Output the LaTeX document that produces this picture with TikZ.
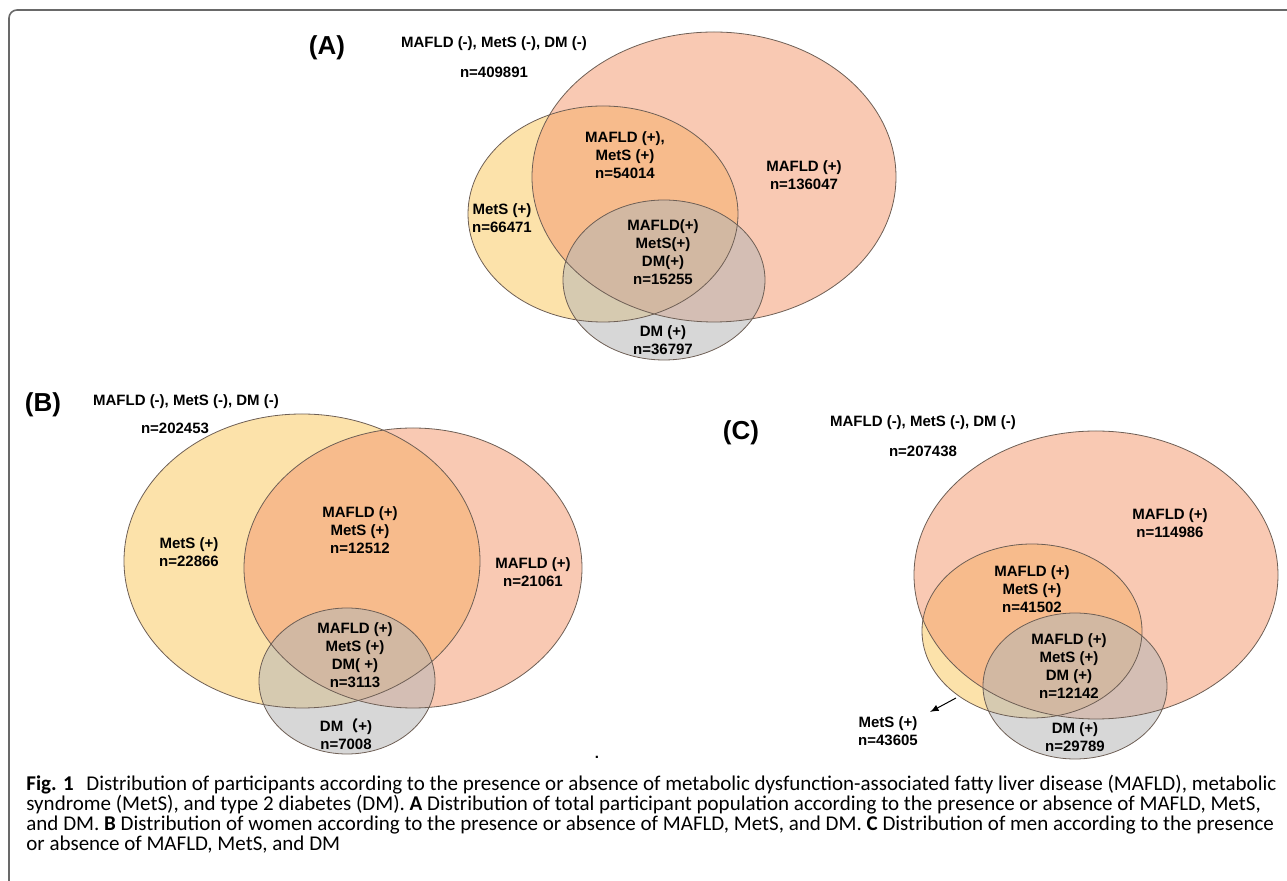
\documentclass[tikz,border=0pt]{standalone}
\usepackage{fontspec}
\setmainfont{Liberation Sans}
\newfontfamily\capfont{Carlito}
\newfontfamily\cjkfont{Noto Sans CJK SC}
\usetikzlibrary{arrows}

\definecolor{mafldfill}{RGB}{244,156,116}
\definecolor{metsfill}{RGB}{250,202,100}
\definecolor{dmfill}{RGB}{182,182,182}
\definecolor{vennline}{RGB}{110,95,85}
\definecolor{framegray}{RGB}{105,105,105}

\begin{document}
\begin{tikzpicture}[x=0.5pt, y=-0.5pt,
  lbl/.style={align=center, inner sep=1pt, font=\bfseries\fontsize{7.5}{9}\selectfont},
  panel/.style={inner sep=0pt, font=\bfseries\fontsize{13}{15}\selectfont},
  mafld/.style={fill=mafldfill, fill opacity=0.55},
  mets/.style={fill=metsfill, fill opacity=0.55},
  dm/.style={fill=dmfill, fill opacity=0.55},
  rim/.style={draw=vennline, line width=0.4pt},
  capline/.style={anchor=base west, inner sep=0pt, font=\capfont\fontsize{10.5}{10}\selectfont}]

\useasboundingbox (0,0) rectangle (1287,881);

% outer frame
\draw[framegray, line width=0.8pt, rounded corners=4pt] (9,881) -- (9,10) -- (1287,10);

% (A) total population
\fill[mets] (603,214) ellipse [x radius=135, y radius=108];
\fill[mafld] (714,177) ellipse [x radius=182, y radius=145];
\fill[dm] (664,280) ellipse [x radius=101, y radius=80];
\draw[rim] (714,177) ellipse [x radius=182, y radius=145];
\draw[rim] (603,214) ellipse [x radius=135, y radius=108];
\draw[rim] (664,280) ellipse [x radius=101, y radius=80];

\path (327,48) node[panel] (tagA) {(A)}
      (494,44) node[lbl] (noneA) {MAFLD (-), MetS (-), DM (-)}
      (494,72) node[lbl] (noneNA) {n=409891};

\path (625,155) node[lbl] (mmA) {MAFLD (+),\\MetS (+)\\n=54014}
      (804,175) node[lbl] (mafldA) {MAFLD (+)\\n=136047}
      (502,218) node[lbl] (metsA) {MetS (+)\\n=66471}
      (663,252) node[lbl] (allA) {MAFLD(+)\\MetS(+)\\DM(+)\\n=15255}
      (663,340) node[lbl] (dmA) {DM (+)\\n=36797};

% (B) women
\fill[mets] (302,561) ellipse [x radius=178, y radius=147];
\fill[mafld] (413,568) ellipse [x radius=169, y radius=140];
\fill[dm] (347,681) ellipse [x radius=88, y radius=73];
\draw[rim] (302,561) ellipse [x radius=178, y radius=147];
\draw[rim] (413,568) ellipse [x radius=169, y radius=140];
\draw[rim] (347,681) ellipse [x radius=88, y radius=73];

\path (43,405) node[panel] (tagB) {(B)}
      (186,402) node[lbl] (noneB) {MAFLD (-), MetS (-), DM (-)}
      (175,428) node[lbl] (noneNB) {n=202453};

\path (189,552) node[lbl] (metsB) {MetS (+)\\n=22866}
      (360,530) node[lbl] (mmB) {MAFLD (+)\\MetS (+)\\n=12512}
      (533,572) node[lbl] (mafldB) {MAFLD (+)\\n=21061}
      (355,655) node[lbl] (allB) {MAFLD (+)\\MetS (+)\\DM( +)\\n=3113}
      (346,734) node[lbl] (dmB) {DM{\cjkfont （}+)\\n=7008}
      (597,757) node[lbl] (dotB) {.};

% (C) men
\fill[mets] (1032,631) ellipse [x radius=110, y radius=87];
\fill[mafld] (1096,575) ellipse [x radius=182, y radius=144];
\fill[dm] (1075,686) ellipse [x radius=92, y radius=73];
\draw[rim] (1096,575) ellipse [x radius=182, y radius=144];
\draw[rim] (1032,631) ellipse [x radius=110, y radius=87];
\draw[rim] (1075,686) ellipse [x radius=92, y radius=73];

\path (741,433) node[panel] (tagC) {(C)}
      (923,423) node[lbl] (noneC) {MAFLD (-), MetS (-), DM (-)}
      (923,451) node[lbl] (noneNC) {n=207438};

\path (1170,523) node[lbl] (mafldC) {MAFLD (+)\\n=114986}
      (1032,589) node[lbl] (mmC) {MAFLD (+)\\MetS (+)\\n=41502}
      (1069,666) node[lbl] (allC) {MAFLD (+)\\MetS (+)\\DM (+)\\n=12142}
      (1075,737) node[lbl] (dmC) {DM (+)\\n=29789}
      (888,731) node[lbl] (metsC) {MetS (+)\\n=43605};

\coordinate (metsTail) at (956,698);
\coordinate (metsHead) at (930,712);
\draw[-latex, line width=0.5pt] (metsTail) -- (metsHead);

% caption
\path (26,791) node[capline] (cap1) {\textbf{Fig. 1}\hspace{0.6em}Distribution of participants according to the presence or absence of metabolic dysfunction-associated fatty liver disease (MAFLD), metabolic}
      (26,811) node[capline] (cap2) {syndrome (MetS), and type 2 diabetes (DM). \textbf{A} Distribution of total participant population according to the presence or absence of MAFLD, MetS,}
      (26,831) node[capline] (cap3) {and DM. \textbf{B} Distribution of women according to the presence or absence of MAFLD, MetS, and DM. \textbf{C} Distribution of men according to the presence}
      (26,851) node[capline] (cap4) {or absence of MAFLD, MetS, and DM};
\end{tikzpicture}
\end{document}
